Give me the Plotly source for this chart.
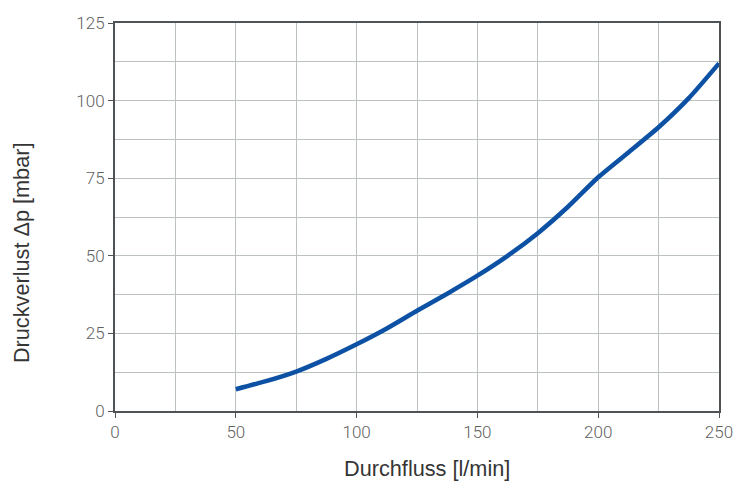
import plotly.graph_objects as go

flow = [50, 62.5, 75, 87.5, 100, 112.5, 125, 137.5, 150, 162.5, 175, 187.5, 200, 212.5, 225, 237.5, 250]
dp = [7.0, 9.6, 12.7, 16.8, 21.5, 26.6, 32.3, 37.8, 43.6, 50.0, 57.3, 65.8, 75.3, 83.3, 91.4, 100.8, 112.0]

x_ticks = [0, 50, 100, 150, 200, 250]
y_ticks = [0, 25, 50, 75, 100, 125]
x_title = "Durchfluss [l/min]"
y_title = "Druckverlust Δp [mbar]"

fig = go.Figure()
fig.add_trace(go.Scatter(x=flow, y=dp, mode="lines",
                         line=dict(color="#0c51a3", width=4.5, shape="spline", smoothing=0.6),
                         showlegend=False, hoverinfo="skip"))

tickfont = dict(family="Roboto", size=17, color="#5f5f5f", weight=300)
titlefont = dict(family="Liberation Sans, Arial", size=21.7, color="#353535")
axcommon = dict(showline=True, linecolor="#4f5356", linewidth=2, mirror=True,
                showgrid=True, gridcolor="#bcc1c1", gridwidth=1.3,
                ticks="outside", ticklen=5, tickcolor="#4f5356", tickwidth=1.3,
                tickfont=tickfont, zeroline=False, fixedrange=True, automargin=False)

fig.update_xaxes(range=[0, 250], tickvals=x_ticks,
                 minor=dict(dtick=25, tick0=0, showgrid=True, gridcolor="#bcc1c1", gridwidth=1.3, ticks=""),
                 **axcommon)
fig.update_yaxes(range=[0, 125], tickvals=y_ticks,
                 minor=dict(dtick=12.5, tick0=0, showgrid=True, gridcolor="#bcc1c1", gridwidth=1.3, ticks=""),
                 **axcommon)

fig.add_annotation(text=x_title, xref="paper", yref="paper", x=0.5166, y=-0.147,
                   xanchor="center", yanchor="middle", showarrow=False, font=titlefont)
fig.add_annotation(text=y_title, xref="paper", yref="paper", x=-0.1556, y=0.407,
                   xanchor="center", yanchor="middle", textangle=-90, showarrow=False, font=titlefont)

fig.update_layout(width=739, height=481, margin=dict(l=115, r=20, t=23, b=70),
                  paper_bgcolor="white", plot_bgcolor="white")
fig.write_html("out.html", config={"displayModeBar": False},
               post_script="document.body.style.margin='0';")
